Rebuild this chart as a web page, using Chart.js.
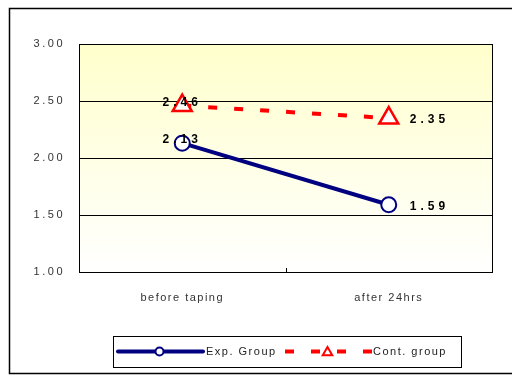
<!DOCTYPE html>
<html>
<head>
<meta charset="utf-8">
<script src="https://cdn.jsdelivr.net/npm/chart.js@4/dist/chart.umd.min.js"></script>
<style>
  html, body { margin: 0; padding: 0; background: #ffffff; }
  #wrap { width: 512px; height: 376px; }
</style>
</head>
<body>
<div id="wrap"><canvas id="c" width="512" height="376"></canvas></div>
<script>
// Mean scores, before taping and 24 hours later
const categories = ['before taping', 'after 24hrs'];
const expGroup = [2.13, 1.59];
const contGroup = [2.46, 2.35];
const seriesNames = ['Exp. Group', 'Cont. group'];
const yTickValues = [1.0, 1.5, 2.0, 2.5, 3.0];

const NAVY = '#000080';
const RED = '#ff0000';
const FONT = '"Liberation Sans", Arial, sans-serif';

// Letter spacing used for each axis' tick labels
const tickSpacing = { x: '1.5px', y: '2.5px' };

// Frame, plot background, value labels and the boxed legend
const decorations = {
  id: 'decorations',
  beforeDraw(chart) {
    const { ctx, chartArea: a } = chart;
    // give each axis its own tick-label letter spacing
    Object.keys(tickSpacing).forEach(id => {
      const s = chart.scales[id];
      if (s && !s._spacedLabels) {
        const base = s.drawLabels.bind(s);
        s.drawLabels = function (area) {
          const c = this.ctx;
          c.save();
          c.letterSpacing = tickSpacing[id];
          base(area);
          c.restore();
        };
        s._spacedLabels = true;
      }
    });
    ctx.save();
    ctx.fillStyle = '#ffffff';
    ctx.fillRect(0, 0, chart.width, chart.height);
    const g = ctx.createLinearGradient(0, a.top, 0, a.bottom);
    g.addColorStop(0, '#ffffcc');
    g.addColorStop(1, '#ffffff');
    ctx.fillStyle = g;
    ctx.fillRect(a.left, a.top, a.right - a.left, a.bottom - a.top);
    // outer frame
    ctx.strokeStyle = '#000000';
    ctx.lineWidth = 1.5;
    ctx.strokeRect(9.5, 8.5, 520, 365);
    ctx.restore();
  },
  afterDraw(chart) {
    const { ctx, chartArea: a } = chart;
    ctx.save();
    // plot border
    ctx.strokeStyle = '#000000';
    ctx.lineWidth = 1;
    ctx.strokeRect(Math.round(a.left) + 0.5, Math.round(a.top) + 0.5,
                   Math.round(a.right - a.left), Math.round(a.bottom - a.top));
    // category divider tick
    const xs = chart.scales.x;
    const mid = (xs.getPixelForValue(0) + xs.getPixelForValue(1)) / 2;
    ctx.beginPath();
    ctx.moveTo(Math.round(mid) + 0.5, a.bottom);
    ctx.lineTo(Math.round(mid) + 0.5, a.bottom - 4);
    ctx.stroke();

    // value labels
    ctx.fillStyle = '#000000';
    ctx.font = 'bold 12px ' + FONT;
    ctx.letterSpacing = '4px';
    ctx.textBaseline = 'middle';
    chart.data.datasets.forEach((ds, di) => {
      const meta = chart.getDatasetMeta(di);
      meta.data.forEach((pt, i) => {
        const txt = ds.data[i].toFixed(2);
        if (i === 0) {
          ctx.textAlign = 'center';
          ctx.fillText(txt, pt.x, pt.y - 3);
        } else {
          ctx.textAlign = 'left';
          ctx.fillText(txt, pt.x + 21, pt.y + 2);
        }
      });
    });

    // legend box
    ctx.letterSpacing = '1.5px';
    ctx.strokeStyle = '#000000';
    ctx.lineWidth = 1;
    ctx.strokeRect(113.5, 336.5, 348, 31);
    const ly = 351.5;
    const ds0 = chart.data.datasets[0];
    const ds1 = chart.data.datasets[1];
    // Exp. Group sample
    ctx.strokeStyle = ds0.borderColor;
    ctx.lineWidth = 4;
    ctx.lineCap = 'round';
    ctx.beginPath(); ctx.moveTo(118, ly); ctx.lineTo(203, ly); ctx.stroke();
    ctx.lineCap = 'butt';
    ctx.lineWidth = 2;
    ctx.fillStyle = '#ffffff';
    ctx.beginPath(); ctx.arc(159.5, ly, 4, 0, Math.PI * 2); ctx.fill(); ctx.stroke();
    // Cont. group sample
    ctx.strokeStyle = ds1.borderColor;
    ctx.lineWidth = 4;
    ctx.setLineDash([9, 17]);
    ctx.beginPath(); ctx.moveTo(285, ly); ctx.lineTo(372, ly); ctx.stroke();
    ctx.setLineDash([]);
    ctx.lineWidth = 2;
    const r = 5.5, tx = 327.5, ty = ly + 1;
    ctx.beginPath();
    ctx.moveTo(tx, ty - r);
    ctx.lineTo(tx + r * 0.866, ty + r * 0.5);
    ctx.lineTo(tx - r * 0.866, ty + r * 0.5);
    ctx.closePath();
    ctx.fillStyle = '#ffffff';
    ctx.fill(); ctx.stroke();
    // legend text
    ctx.fillStyle = '#222222';
    ctx.font = '11px ' + FONT;
    ctx.textAlign = 'left';
    ctx.textBaseline = 'middle';
    ctx.fillText(seriesNames[0], 206, ly);
    ctx.fillText(seriesNames[1], 373, ly);
    ctx.restore();
  }
};

new Chart(document.getElementById('c'), {
  type: 'line',
  data: {
    labels: categories,
    datasets: [
      {
        label: seriesNames[0],
        data: expGroup,
        borderColor: NAVY,
        borderWidth: 4,
        pointRadius: 7.5,
        pointBorderWidth: 2,
        pointBorderColor: NAVY,
        pointBackgroundColor: '#ffffff',
        tension: 0
      },
      {
        label: seriesNames[1],
        data: contGroup,
        borderColor: RED,
        borderWidth: 4,
        borderDash: [9, 17],
        pointStyle: 'triangle',
        pointRadius: 11,
        pointBorderWidth: 2.5,
        pointBorderColor: RED,
        pointBackgroundColor: '#ffffff',
        tension: 0
      }
    ]
  },
  options: {
    responsive: false,
    animation: false,
    devicePixelRatio: 1,
    layout: { padding: { left: 0, top: 44, right: 20, bottom: 0 } },
    plugins: { legend: { display: false }, tooltip: { enabled: false } },
    scales: {
      x: {
        offset: true,
        grid: { display: false, drawTicks: false },
        border: { display: true, color: '#000000', width: 1 },
        ticks: { color: '#333333', font: { family: FONT, size: 11 }, padding: 19 },
        afterFit(s) { s.height = 104; }
      },
      y: {
        min: 1,
        max: 3,
        afterBuildTicks(s) { s.ticks = yTickValues.map(v => ({ value: v })); },
        grid: { color: '#000000', lineWidth: 1, drawTicks: false },
        border: { display: true, color: '#000000', width: 1 },
        ticks: {
          color: '#333333',
          font: { family: FONT, size: 11 },
          padding: 14,
          callback: v => Number(v).toFixed(2)
        },
        afterFit(s) { s.width = 79; }
      }
    }
  },
  plugins: [decorations]
});
</script>
</body>
</html>
